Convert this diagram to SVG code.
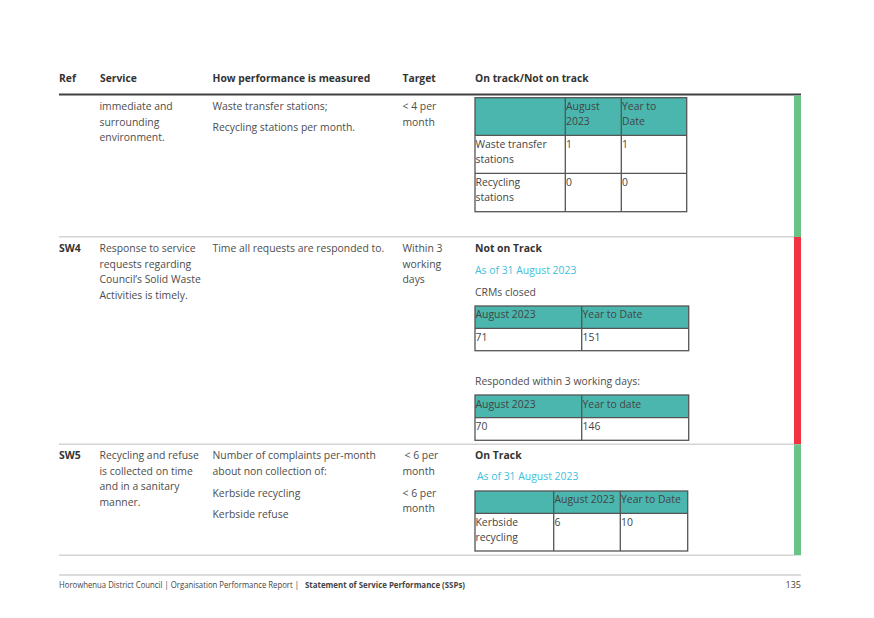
<svg xmlns="http://www.w3.org/2000/svg" width="874" height="618" viewBox="0 0 874 618">
<style>
text{font-family:"Open Sans","Liberation Sans",sans-serif;font-size:10.4px;fill:#4d4d4d}
.h{font-weight:bold;fill:#333;font-size:10.3px}
.b{font-weight:bold;fill:#333}
.c{fill:#3cbfd8}
.sep{stroke:#d4d4d4;stroke-width:1.5}
.tc{fill:#4ab6ae}
.tb{fill:none;stroke:#555;stroke-width:1.3}
.tl{stroke:#555;stroke-width:1.3}
.t{fill:#444}
.f{font-size:9px;fill:#444}
</style>
<rect width="874" height="618" fill="#fff"/>
<g id="header">
<text class="h" x="59" y="81.5">Ref</text>
<text class="h" x="100" y="81.5">Service</text>
<text class="h" x="212.5" y="81.5">How performance is measured</text>
<text class="h" x="402.5" y="81.5">Target</text>
<text class="h" x="475" y="81.5">On track/Not on track</text>
<line x1="59" y1="94.5" x2="801" y2="94.5" stroke="#404040" stroke-width="2"/>
</g>
<g id="status-bars">
<rect x="794" y="95.5" width="7" height="141.5" fill="#6bc487"/>
<rect x="794" y="237" width="7" height="207.3" fill="#ef3340"/>
<rect x="794" y="444.3" width="7" height="111" fill="#6bc487"/>
</g>
<g id="separators">
<line class="sep" x1="59" y1="236.7" x2="794" y2="236.7"/>
<line class="sep" x1="59" y1="444.3" x2="794" y2="444.3"/>
<line class="sep" x1="59" y1="555.3" x2="794" y2="555.3"/>
</g>
<g id="row-cont">
<text x="99.5" y="109.5">immediate and</text>
<text x="99.5" y="125.5">surrounding</text>
<text x="99.5" y="141">environment.</text>
<text x="212.5" y="109.5">Waste transfer stations;</text>
<text x="212.5" y="131">Recycling stations per month.</text>
<text x="402.5" y="109.5">&lt; 4 per</text>
<text x="402.5" y="125.5">month</text>
<g id="table1">
<rect class="tc" x="475" y="97.7" width="211.7" height="37.6"/>
<rect class="tb" x="475" y="97.7" width="211.7" height="114"/>
<line class="tl" x1="475" y1="135.3" x2="686.7" y2="135.3"/>
<line class="tl" x1="475" y1="173.3" x2="686.7" y2="173.3"/>
<line class="tl" x1="565.3" y1="97.7" x2="565.3" y2="211.7"/>
<line class="tl" x1="621.3" y1="97.7" x2="621.3" y2="211.7"/>
<text class="t" x="566" y="110">August</text>
<text class="t" x="566" y="125">2023</text>
<text class="t" x="622" y="110">Year to</text>
<text class="t" x="622" y="125">Date</text>
<text class="t" x="475.5" y="147.5">Waste transfer</text>
<text class="t" x="475.5" y="163">stations</text>
<text class="t" x="566" y="147.5">1</text>
<text class="t" x="622" y="147.5">1</text>
<text class="t" x="475.5" y="186">Recycling</text>
<text class="t" x="475.5" y="201">stations</text>
<text class="t" x="566" y="186">0</text>
<text class="t" x="622" y="186">0</text>
</g>
</g>
<g id="row-sw4">
<text class="b" x="59" y="252">SW4</text>
<text x="99.5" y="252">Response to service</text>
<text x="99.5" y="267.5">requests regarding</text>
<text x="99.5" y="283">Council’s Solid Waste</text>
<text x="99.5" y="298.5">Activities is timely.</text>
<text x="212.5" y="252">Time all requests are responded to.</text>
<text x="402.5" y="252">Within 3</text>
<text x="402.5" y="267.5">working</text>
<text x="402.5" y="283">days</text>
<text class="b" x="475" y="252">Not on Track</text>
<text class="c" x="475" y="274">As of 31 August 2023</text>
<text x="475" y="296">CRMs closed</text>
<g id="table2">
<rect class="tc" x="475" y="306" width="213.7" height="22.3"/>
<rect class="tb" x="475" y="306" width="213.7" height="44.7"/>
<line class="tl" x1="475" y1="328.3" x2="688.7" y2="328.3"/>
<line class="tl" x1="581.7" y1="306" x2="581.7" y2="350.7"/>
<text class="t" x="475.5" y="318">August 2023</text>
<text class="t" x="582.5" y="318">Year to Date</text>
<text class="t" x="475.5" y="341">71</text>
<text class="t" x="582.5" y="341">151</text>
</g>
<text x="475" y="385">Responded within 3 working days:</text>
<g id="table3">
<rect class="tc" x="475" y="395" width="213.7" height="22.7"/>
<rect class="tb" x="475" y="395" width="213.7" height="45.3"/>
<line class="tl" x1="475" y1="417.7" x2="688.7" y2="417.7"/>
<line class="tl" x1="581.7" y1="395" x2="581.7" y2="440.3"/>
<text class="t" x="475.5" y="407.5">August 2023</text>
<text class="t" x="582.5" y="407.5">Year to date</text>
<text class="t" x="475.5" y="430">70</text>
<text class="t" x="582.5" y="430">146</text>
</g>
</g>
<g id="row-sw5">
<text class="b" x="59" y="459">SW5</text>
<text x="99.5" y="459">Recycling and refuse</text>
<text x="99.5" y="474.5">is collected on time</text>
<text x="99.5" y="490">and in a sanitary</text>
<text x="99.5" y="505.5">manner.</text>
<text x="212.5" y="459">Number of complaints per-month</text>
<text x="212.5" y="474.5">about non collection of:</text>
<text x="212.5" y="496.5">Kerbside recycling</text>
<text x="212.5" y="518">Kerbside refuse</text>
<text x="404.5" y="459">&lt; 6 per</text>
<text x="402.5" y="474.5">month</text>
<text x="402.5" y="496.5">&lt; 6 per</text>
<text x="402.5" y="511.5">month</text>
<text class="b" x="475" y="459">On Track</text>
<text class="c" x="477" y="480">As of 31 August 2023</text>
<g id="table4">
<rect class="tc" x="475" y="491" width="212.7" height="22.3"/>
<rect class="tb" x="475" y="491" width="212.7" height="60"/>
<line class="tl" x1="475" y1="513.3" x2="687.7" y2="513.3"/>
<line class="tl" x1="553.7" y1="491" x2="553.7" y2="551"/>
<line class="tl" x1="620.3" y1="491" x2="620.3" y2="551"/>
<text class="t" x="554.5" y="503">August 2023</text>
<text class="t" x="621" y="503">Year to Date</text>
<text class="t" x="475.5" y="526">Kerbside</text>
<text class="t" x="475.5" y="541">recycling</text>
<text class="t" x="554.5" y="526">6</text>
<text class="t" x="621" y="526">10</text>
</g>
</g>
<g id="footer">
<line x1="59" y1="575" x2="801" y2="575" stroke="#d0d0d0" stroke-width="1.5"/>
<text class="f" transform="translate(59 587.5) scale(0.8 1)" x="0" y="0" textLength="300" lengthAdjust="spacingAndGlyphs">Horowhenua District Council | Organisation Performance Report |</text>
<text class="f" transform="translate(305 587.5) scale(0.8 1)" x="0" y="0" font-weight="bold" textLength="200" lengthAdjust="spacingAndGlyphs">Statement of Service Performance (SSPs)</text>
<text class="f" x="801" y="587.5" text-anchor="end">135</text>
</g>
</svg>
